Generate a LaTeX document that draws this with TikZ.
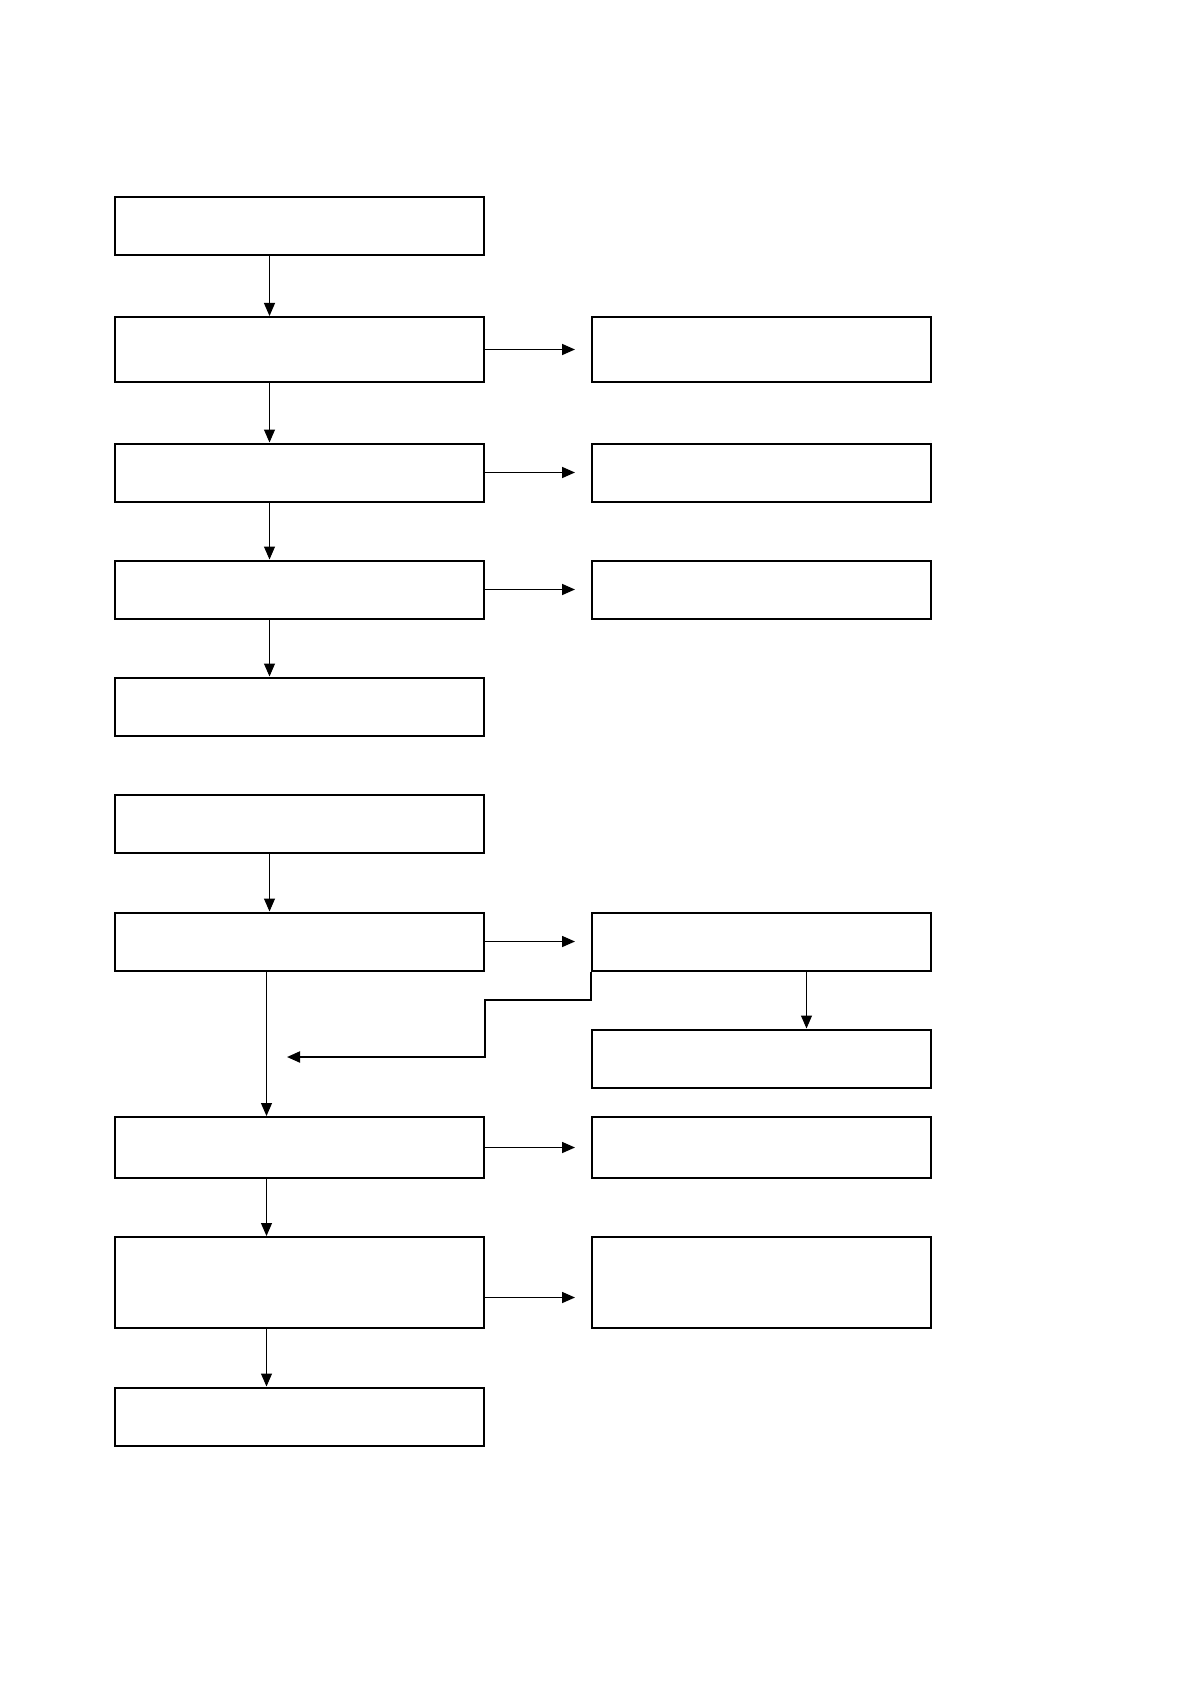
\documentclass[tikz,border=0pt]{standalone}
\usetikzlibrary{arrows.meta}
\begin{document}
\begin{tikzpicture}[x=1pt, y=-1pt,
        stepbox/.style={draw, line width=2pt, minimum width=369pt, minimum height=58pt, inner sep=0pt},
        sidebox/.style={draw, line width=2pt, minimum width=339pt, minimum height=58pt, inner sep=0pt},
        arrow/.style={-{Triangle[length=13pt, width=11pt]}, line width=1pt},
        sidearrow/.style={arrow, line width=1.6pt, shorten >=16pt}
        ]
        \useasboundingbox (0,0) rectangle (1191,1685);

        \node[stepbox] (s1) at (299.5,226) {};
        \node[stepbox, minimum height=65pt] (s2) at (299.5,349.5) {};
        \node[stepbox] (s3) at (299.5,472.5) {};
        \node[stepbox] (s4) at (299.5,589.5) {};
        \node[stepbox] (s5) at (299.5,706.5) {};
        \node[stepbox] (s6) at (299.5,823.5) {};
        \node[stepbox] (s7) at (299.5,941.5) {};
        \node[stepbox, minimum height=61pt] (s8) at (299.5,1147.5) {};
        \node[stepbox, minimum height=91pt] (s9) at (299.5,1282.5) {};
        \node[stepbox] (s10) at (299.5,1416.5) {};

        \node[sidebox, minimum height=65pt] (r1) at (761.5,349.5) {};
        \node[sidebox] (r2) at (761.5,472.5) {};
        \node[sidebox] (r3) at (761.5,589.5) {};
        \node[sidebox] (r4) at (761.5,941.5) {};
        \node[sidebox] (r5) at (761.5,1058.5) {};
        \node[sidebox, minimum height=61pt] (r6) at (761.5,1147.5) {};
        \node[sidebox, minimum height=91pt] (r7) at (761.5,1282.5) {};

        \draw[arrow] ([xshift=-30pt]s1.south) -- ([xshift=-30pt]s2.north);
        \draw[arrow] ([xshift=-30pt]s2.south) -- ([xshift=-30pt]s3.north);
        \draw[arrow] ([xshift=-30pt]s3.south) -- ([xshift=-30pt]s4.north);
        \draw[arrow] ([xshift=-30pt]s4.south) -- ([xshift=-30pt]s5.north);
        \draw[arrow] ([xshift=-30pt]s6.south) -- ([xshift=-30pt]s7.north);
        \draw[arrow] ([xshift=-33pt]s7.south) -- ([xshift=-33pt]s8.north);
        \draw[arrow] ([xshift=-33pt]s8.south) -- ([xshift=-33pt]s9.north);
        \draw[arrow] ([xshift=-33pt]s9.south) -- ([xshift=-33pt]s10.north);

        \draw[sidearrow] (s2.east) -- (r1.west);
        \draw[sidearrow] (s3.east) -- (r2.west);
        \draw[sidearrow] (s4.east) -- (r3.west);
        \draw[sidearrow] (s7.east) -- (r4.west);
        \draw[sidearrow] (s8.east) -- (r6.west);
        \draw[sidearrow] ([yshift=-15pt]s9.east) -- ([yshift=-15pt]r7.west);

        \draw[arrow] ([xshift=45pt]r4.south) -- ([xshift=45pt]r5.north);

        % back to the main line
        \coordinate (back) at (287,1057);
        \draw[arrow, line width=2pt] (r4.south west) |- (s7.east |- 0,1000) -- (s7.east |- back) -- (back);
    \end{tikzpicture}
\end{document}
